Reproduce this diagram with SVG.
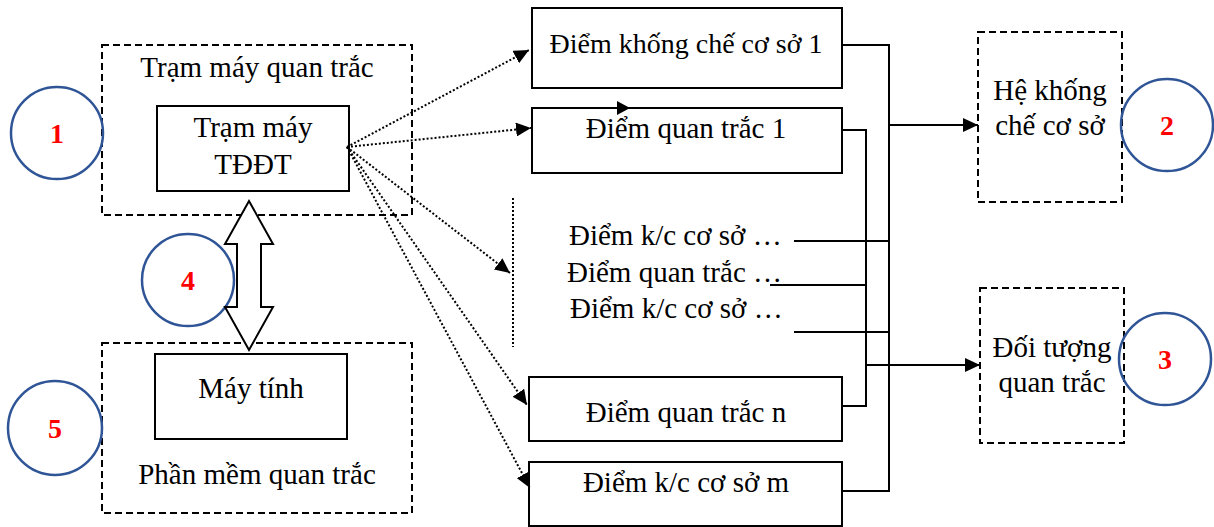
<svg xmlns="http://www.w3.org/2000/svg" width="1214" height="527" viewBox="0 0 1214 527" font-family="'Liberation Serif', 'Times New Roman', serif">
<style>
text{font-family:'Liberation Serif','Times New Roman',serif;font-size:29px;fill:#000}
.c{text-anchor:middle}
.box{fill:#fff;stroke:#000;stroke-width:2}
.dash{fill:none;stroke:#000;stroke-width:2;stroke-dasharray:7,4}
.circ{fill:none;stroke:#2F5597;stroke-width:2.5}
.num{font-weight:bold;fill:#FF0000;text-anchor:middle;font-size:28px}
.dot{fill:none;stroke:#000;stroke-width:2;stroke-dasharray:2,2}
.ln{fill:none;stroke:#000;stroke-width:2}
</style>
<defs>
<marker id="ah" markerWidth="15" markerHeight="14" refX="15" refY="7" orient="auto" markerUnits="userSpaceOnUse">
<path d="M0,0 L15,7 L0,14 Z" fill="#000"/>
</marker>
</defs>
<g id="station">
<rect class="dash" x="102" y="45" width="310" height="170"/>
<text class="c" x="257" y="77">Trạm máy quan trắc</text>
<rect class="box" x="157" y="106" width="192" height="85"/>
<text class="c" x="253" y="137">Trạm máy</text>
<text class="c" x="253" y="174">TĐĐT</text>
</g>
<g id="computer">
<rect class="dash" x="102" y="343" width="310" height="170"/>
<rect class="box" x="155" y="354" width="192" height="85"/>
<text class="c" x="251" y="398">Máy tính</text>
<text class="c" x="257" y="484">Phần mềm quan trắc</text>
</g>
<g id="kc1">
<rect class="box" x="532" y="8" width="310" height="80"/>
<text class="c" x="686" y="53" style="font-size:28px">Điểm khống chế cơ sở 1</text>
</g>
<g id="qt1">
<rect class="box" x="532" y="108" width="310" height="65"/>
<text class="c" x="686" y="138">Điểm quan trắc 1</text>
<path d="M617,101 L630,108 L617,115 Z" fill="#000"/>
</g>
<g id="middle">
<text x="569" y="245">Điểm k/c cơ sở …</text>
<text x="567" y="282">Điểm quan trắc …</text>
<text x="570" y="318">Điểm k/c cơ sở …</text>
</g>
<g id="qtn">
<rect class="box" x="529" y="377" width="313" height="64"/>
<text class="c" x="686" y="422">Điểm quan trắc n</text>
</g>
<g id="kcm">
<rect class="box" x="529" y="462" width="313" height="64"/>
<text class="c" x="686" y="492">Điểm k/c cơ sở m</text>
</g>
<g id="he">
<rect class="dash" x="978" y="32" width="144" height="170"/>
<text class="c" x="1050" y="100">Hệ khống</text>
<text class="c" x="1050" y="135">chế cơ sở</text>
</g>
<g id="doituong">
<rect class="dash" x="980" y="288" width="144" height="155"/>
<text class="c" x="1052" y="357">Đối tượng</text>
<text class="c" x="1052" y="392">quan trắc</text>
</g>
<g id="labels">
<circle class="circ" cx="57" cy="133" r="46"/>
<text class="num" x="57" y="143">1</text>
<circle class="circ" cx="1167" cy="125" r="46"/>
<text class="num" x="1167" y="135">2</text>
<circle class="circ" cx="1165" cy="359" r="46"/>
<text class="num" x="1165" y="369">3</text>
<circle class="circ" cx="188" cy="280" r="46"/>
<text class="num" x="188" y="290">4</text>
<circle class="circ" cx="55" cy="428" r="47"/>
<text class="num" x="55" y="438">5</text>
</g>
<g id="connectors">
<path d="M249,201 L273,244 L261,244 L261,307 L273,307 L249,350 L225,307 L237,307 L237,244 L225,244 Z" fill="#fff" stroke="#000" stroke-width="2"/>
<line class="dot" x1="347" y1="147" x2="529" y2="50" marker-end="url(#ah)"/>
<line class="dot" x1="347" y1="147" x2="531" y2="128" marker-end="url(#ah)"/>
<line class="dot" x1="347" y1="147" x2="510" y2="273" marker-end="url(#ah)"/>
<line class="dot" x1="347" y1="147" x2="527" y2="405" marker-end="url(#ah)"/>
<line class="dot" x1="347" y1="147" x2="530" y2="488" marker-end="url(#ah)"/>
<line class="dot" x1="513" y1="198" x2="513" y2="347"/>
<path class="ln" d="M842,45 H889 V491 H842"/>
<path class="ln" d="M842,130 H866 V406 H842"/>
<path class="ln" d="M794,241 H889"/>
<path class="ln" d="M770,285 H866"/>
<path class="ln" d="M794,332 H889"/>
<line class="ln" x1="889" y1="125" x2="978" y2="125" marker-end="url(#ah)"/>
<line class="ln" x1="866" y1="365" x2="980" y2="365" marker-end="url(#ah)"/>
</g>
</svg>
